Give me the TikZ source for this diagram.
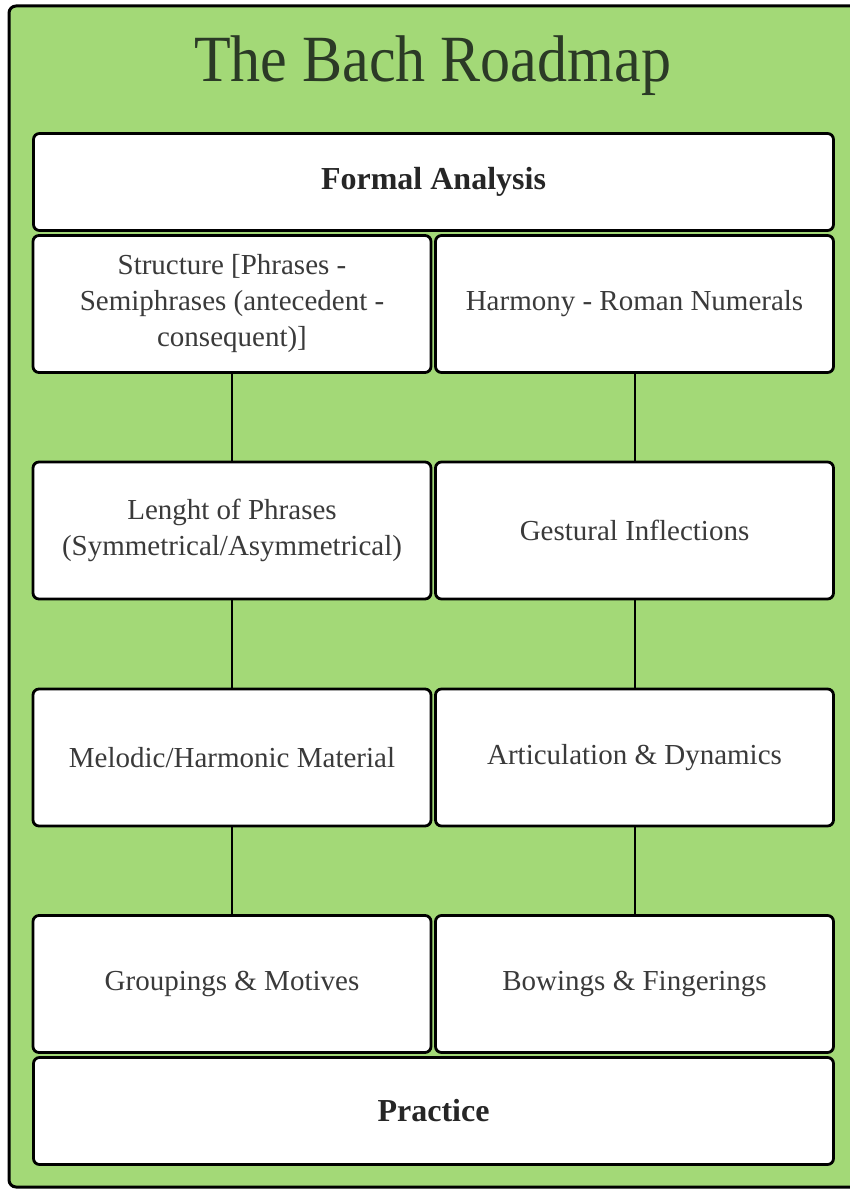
\documentclass[tikz,border=0pt]{standalone}
\usepackage{fontspec}
\setmainfont{Liberation Serif}
\definecolor{bggreen}{HTML}{A3D977}
\definecolor{titlecol}{HTML}{2B3A26}
\definecolor{txtgray}{HTML}{3A3A3A}
\tikzset{
  box/.style={draw=black, fill=white, line width=2.8pt, rounded corners=6pt,
    inner sep=0pt, align=center, text=txtgray,
    font=\fontsize{29}{36}\selectfont, minimum height=137pt},
  halfbox/.style={box, minimum width=398pt},
  widebox/.style={box, minimum width=800pt, font=\fontsize{32}{38}\selectfont\bfseries, text=black!85},
  link/.style={draw=black, line width=2pt}
}
\begin{document}
\begin{tikzpicture}[x=1pt,y=-1pt]
\useasboundingbox (0,0) rectangle (850,1190);
\clip (0,0) rectangle (850,1190);
\draw[fill=bggreen, line width=3pt, rounded corners=7pt] (9,6) rectangle (870,1187);
\node[anchor=base, text=titlecol, font=\fontsize{66}{70}\selectfont] (title) at (432.5,82) {\scalebox{0.91}[1]{The Bach Roadmap}};
\node[widebox, minimum height=97pt] (formal) at (433.5,182) {Formal Analysis};
\node[halfbox] (s1) at (232,304) {Structure [Phrases -\\Semiphrases (antecedent -\\consequent)]};
\node[halfbox] (h1) at (634.5,304) {Harmony - Roman Numerals};
\node[halfbox] (s2) at (232,530.5) {Lenght of Phrases\\(Symmetrical/Asymmetrical)};
\node[halfbox] (h2) at (634.5,530.5) {Gestural Inflections};
\node[halfbox] (s3) at (232,757.5) {Melodic/Harmonic Material};
\node[halfbox] (h3) at (634.5,757.5) {Articulation \& Dynamics};
\node[halfbox] (s4) at (232,984) {Groupings \& Motives};
\node[halfbox] (h4) at (634.5,984) {Bowings \& Fingerings};
\node[widebox, minimum height=107pt] (practice) at (433.5,1111) {Practice};
\draw[link] (s1.south) -- (s2.north);
\draw[link] (s2.south) -- (s3.north);
\draw[link] (s3.south) -- (s4.north);
\draw[link] (h1.south) -- (h2.north);
\draw[link] (h2.south) -- (h3.north);
\draw[link] (h3.south) -- (h4.north);
\end{tikzpicture}
\end{document}
